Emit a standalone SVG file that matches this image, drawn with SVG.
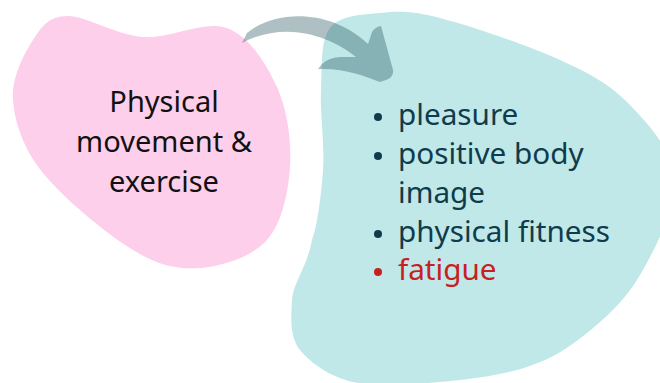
<svg xmlns="http://www.w3.org/2000/svg" width="660" height="383" viewBox="0 0 660 383">
<style>
.lbl{font-family:"Noto Sans","Open Sans","DejaVu Sans",sans-serif;font-size:29px}
.list{font-size:29.7px}
.dark{fill:#0f3c4c}
.red{fill:#c8201f}
</style>
<rect width="660" height="383" fill="#ffffff"/>
<g id="exercise">
<path fill="#fdcfea" d="M67,16 C85.3,15.5 116.3,35 143,37 C169.7,39 204.7,19.7 227,28 C249.3,36.3 266.5,63.8 277,87 C287.5,110.2 291.7,141.5 290,167 C288.3,192.5 282,223.2 267,240 C252,256.8 222.3,266.3 200,268 C177.7,269.7 159.2,265.8 133,250 C106.8,234.2 63,198 43,173 C23,148 14.7,122.2 13,100 C11.3,77.8 24,54 33,40 C42,26 48.7,16.5 67,16 Z"/>
<text class="lbl" fill="#111111" text-anchor="middle"><tspan x="164" y="112">Physical</tspan><tspan x="164" y="152">movement &amp;</tspan><tspan x="164" y="192">exercise</tspan></text>
</g>
<g id="outcomes">
<path fill="#c0e8e8" d="M330,28 C339.8,15.2 361.7,14.7 380,13 C398.3,11.3 410,10.2 440,18 C470,25.8 528.3,45.5 560,60 C591.7,74.5 610.8,85 630,105 C649.2,125 673.3,151.7 675,180 C676.7,208.3 654.7,249.5 640,275 C625.3,300.5 605.8,317.7 587,333 C568.2,348.3 551.5,358.8 527,367 C502.5,375.2 469,379.5 440,382 C411,384.5 376.3,387.3 353,382 C329.7,376.7 310.2,362.7 300,350 C289.8,337.3 290.8,317.7 292,300 C293.2,282.3 306.8,267.8 312,240 C317.2,226.2 321.2,196.2 323,170 C324.8,143.8 319.8,113.7 321,90 C322.2,66.3 320.2,40.8 330,28 Z"/>
<g class="dark">
<circle cx="378" cy="117" r="4"/>
<circle cx="378" cy="156" r="4"/>
<circle cx="378" cy="234" r="4"/>
</g>
<circle class="red" cx="378" cy="272" r="4"/>
<text class="lbl list dark"><tspan x="398" y="125">pleasure</tspan><tspan x="398" y="164">positive body</tspan><tspan x="398" y="203">image</tspan><tspan x="398" y="242">physical fitness</tspan></text>
<text class="lbl list red" x="398" y="280">fatigue</text>
</g>
<g id="connectors">
<path fill="#245560" fill-opacity="0.37" d="M242,43 L247,33 C275,10 330,8 368,44 L372,32 Q375,27 381,26 L393,70 Q394,77 386,80 L380,82 C365,76 345,68 318,69 L322,64 Q328,58 340,57 L356,57 C330,36 285,20 242,43 Z"/>
</g>
</svg>
